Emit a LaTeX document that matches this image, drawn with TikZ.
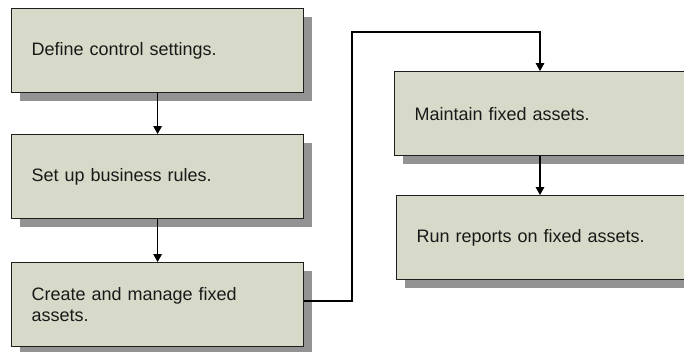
\documentclass[tikz,border=0pt]{standalone}
\usepackage{fontspec}
\setmainfont{Liberation Sans}
\usetikzlibrary{shadows,arrows.meta}
\definecolor{boxfill}{RGB}{215,218,200}
\definecolor{shadowgray}{RGB}{147,147,147}
\definecolor{edgecol}{RGB}{30,30,30}
\tikzset{
  stepbox/.style={draw=edgecol, line width=0.9pt, fill=boxfill, anchor=north west,
    minimum width=219pt, minimum height=63pt, inner xsep=15pt, inner ysep=0pt,
    text width=189pt, align=left,
    font=\fontsize{13.5}{15.75}\selectfont, text=black!90,
    drop shadow={shadow xshift=6pt, shadow yshift=-6pt, fill=shadowgray, opacity=1}},
  flow/.style={line width=0.8pt, black, -{Triangle[width=6.5pt,length=6pt]}}
}
\begin{document}
\begin{tikzpicture}[x=0.75pt,y=-0.75pt]
\path[use as bounding box, clip] (0,0) rectangle (684,351);
\fill[white] (0,0) rectangle (684,351);
\node[stepbox] (b1) at (11,8) {Define control settings.};
\node[stepbox] (b2) at (11,134) {Set up business rules.};
\node[stepbox] (b3) at (11,262) {Create and manage fixed\\assets.};
\node[stepbox] (b4) at (394,71) {Maintain fixed assets.};
\node[stepbox] (b5) at (396,195) {Run reports on fixed assets.};
\coordinate (c1) at (352,301);
\coordinate (c2) at (352,32);
\coordinate (c3) at (540,32);
\draw[flow] (b1.south) -- (b2.north);
\draw[flow] (b2.south) -- (b3.north);
\draw[flow] (b3.east |- c1) -- (c1) -- (c2) -- (c3) -- (b4.north -| c3);
\draw[flow] (b4.south -| c3) -- (b5.north -| c3);
\end{tikzpicture}
\end{document}
